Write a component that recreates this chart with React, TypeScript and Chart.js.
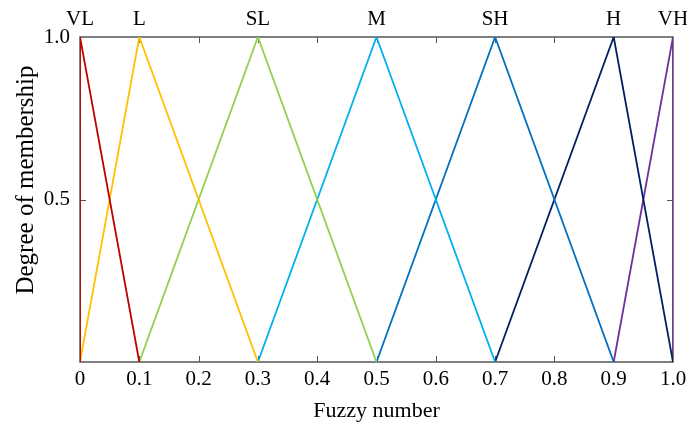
import React, { useEffect, useRef } from "react";
import { Chart, registerables } from "chart.js";

Chart.register(...registerables);

const setNames = ["VL", "L", "SL", "M", "SH", "H", "VH"];
const setColors = ["#C00000", "#FFC000", "#92D050", "#00B0F0", "#0070C0", "#002060", "#7030A0"];
const setX: number[][] = [
  [0, 0, 0.1],
  [0, 0.1, 0.3],
  [0.1, 0.3, 0.5],
  [0.3, 0.5, 0.7],
  [0.5, 0.7, 0.9],
  [0.7, 0.9, 1.0],
  [0.9, 1.0, 1.0],
];
const setY: number[][] = [
  [0, 1, 0],
  [0, 1, 0],
  [0, 1, 0],
  [0, 1, 0],
  [0, 1, 0],
  [0, 1, 0],
  [0, 1, 0],
];
const xTickValues = [0, 0.1, 0.2, 0.3, 0.4, 0.5, 0.6, 0.7, 0.8, 0.9, 1.0];
const yTickValues = [0.5, 1.0];
const peakValues = [0, 0.1, 0.3, 0.5, 0.7, 0.9, 1.0];
const xTitle = "Fuzzy number";
const yTitle = "Degree of membership";

const FONT = "'Liberation Serif', 'Times New Roman', serif";

const frame = {
  id: "frame",
  beforeDatasetsDraw(chart: any) {
    const { ctx, chartArea: a, scales } = chart;
    ctx.save();
    ctx.strokeStyle = "#555";
    ctx.lineWidth = 1.5;
    ctx.strokeRect(a.left, a.top, a.right - a.left, a.bottom - a.top);
    ctx.lineWidth = 1;
    ctx.beginPath();
    for (const v of xTickValues) {
      if (v === 0 || v === 1) continue;
      const px = Math.round(scales.x.getPixelForValue(v)) + 0.5;
      ctx.moveTo(px, a.bottom);
      ctx.lineTo(px, a.bottom - 6);
      ctx.moveTo(px, a.top);
      ctx.lineTo(px, a.top + 6);
    }
    for (const v of yTickValues) {
      if (v === 1) continue;
      const py = Math.round(scales.y.getPixelForValue(v)) + 0.5;
      ctx.moveTo(a.left, py);
      ctx.lineTo(a.left + 6, py);
      ctx.moveTo(a.right, py);
      ctx.lineTo(a.right - 6, py);
    }
    ctx.stroke();
    ctx.restore();
  },
  afterDraw(chart: any) {
    const { ctx, chartArea: a } = chart;
    ctx.save();
    ctx.fillStyle = "#000";
    ctx.font = `22px ${FONT}`;
    ctx.textAlign = "center";
    ctx.textBaseline = "alphabetic";
    ctx.fillText(xTitle, (a.left + a.right) / 2, 417);
    ctx.translate(33, 180);
    ctx.rotate(-Math.PI / 2);
    ctx.font = `25px ${FONT}`;
    ctx.fillText(yTitle, 0, 0);
    ctx.restore();
  },
};

const fmt = (v: number) => (v === 0 ? "0" : v.toFixed(1));

export default function App() {
  const ref = useRef<HTMLCanvasElement>(null);
  useEffect(() => {
    if (!ref.current) return;
    const chart = new Chart(ref.current, {
      type: "scatter",
      data: {
        datasets: setNames.map((n, i) => ({
          label: n,
          data: setX[i].map((x, j) => ({ x, y: setY[i][j] })),
          showLine: true,
          borderColor: setColors[i],
          backgroundColor: setColors[i],
          borderWidth: 1.8,
          pointRadius: 0,
          fill: false,
          tension: 0,
        })),
      },
      options: {
        animation: false,
        responsive: false,
        layout: { padding: { left: 0, right: 14, top: 0, bottom: 0 } },
        plugins: { legend: { display: false }, tooltip: { enabled: false } },
        scales: {
          x: {
            type: "linear",
            position: "bottom",
            min: 0,
            max: 1,
            afterBuildTicks: (s: any) => {
              s.ticks = xTickValues.map((v) => ({ value: v }));
            },
            afterFit: (s: any) => {
              s.height = 61;
              s.paddingLeft = 0;
              s.paddingRight = 0;
            },
            ticks: {
              callback: (v: any) => fmt(Number(v)),
              font: { family: FONT, size: 21 },
              color: "#000",
              padding: 5,
              maxRotation: 0,
              autoSkip: false,
            },
            grid: { display: false, drawTicks: false },
            border: { display: false },
          },
          x2: {
            type: "linear",
            position: "top",
            min: 0,
            max: 1,
            afterBuildTicks: (s: any) => {
              s.ticks = peakValues.map((v) => ({ value: v }));
            },
            afterFit: (s: any) => {
              s.height = 37;
              s.paddingLeft = 0;
              s.paddingRight = 0;
            },
            ticks: {
              callback: (v: any, i: number) => setNames[i],
              font: { family: FONT, size: 21 },
              color: "#000",
              padding: 5,
              maxRotation: 0,
              autoSkip: false,
            },
            grid: { display: false, drawTicks: false },
            border: { display: false },
          },
          y: {
            type: "linear",
            min: 0,
            max: 1,
            afterBuildTicks: (s: any) => {
              s.ticks = yTickValues.map((v) => ({ value: v }));
            },
            afterFit: (s: any) => {
              s.width = 80;
              s.paddingTop = 0;
              s.paddingBottom = 0;
            },
            ticks: {
              callback: (v: any) => fmt(Number(v)),
              font: { family: FONT, size: 21 },
              color: "#000",
              padding: 10,
            },
            grid: { display: false, drawTicks: false },
            border: { display: false },
          },
        },
      },
      plugins: [frame],
    } as any);
    return () => chart.destroy();
  }, []);
  return (
    <div style={{ position: "fixed", left: 0, top: 0, width: 687, height: 423, background: "#fff" }}>
      <canvas ref={ref} width={687} height={423} style={{ display: "block" }} />
    </div>
  );
}
